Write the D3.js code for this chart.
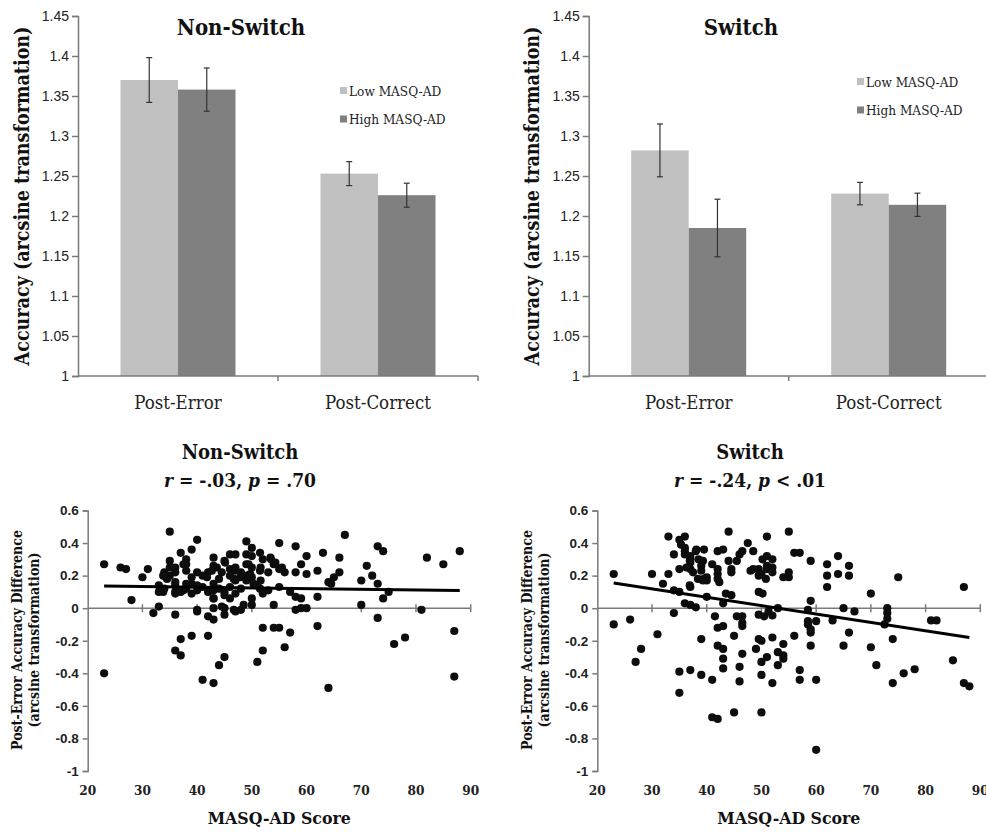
<!DOCTYPE html>
<html>
<head>
<meta charset="utf-8">
<script src="https://cdn.jsdelivr.net/npm/d3@7"></script>
<style>
  body { margin: 0; background: #fff; }
  svg { display: block; font-family: "DejaVu Serif", "Liberation Serif", serif; font-stretch: condensed; }
</style>
</head>
<body>
<script>
// ---- bar chart data ----
const conditions = ["Post-Error", "Post-Correct"];
const groups = ["Low MASQ-AD", "High MASQ-AD"];
const barColors = ["#c0c0c0", "#808080"];

const nonSwitchLow = [1.370, 1.253];
const nonSwitchLowErr = [0.028, 0.015];
const nonSwitchHigh = [1.358, 1.226];
const nonSwitchHighErr = [0.027, 0.015];

const switchLow = [1.282, 1.228];
const switchLowErr = [0.033, 0.014];
const switchHigh = [1.185, 1.214];
const switchHighErr = [0.036, 0.0145];

const barTicks = [1, 1.05, 1.1, 1.15, 1.2, 1.25, 1.3, 1.35, 1.4, 1.45];

// ---- scatter data: [MASQ-AD score, post-error accuracy difference] ----
const nonSwitchPoints = [
  [23,0.27],[23,-0.40],[26,0.25],[27,0.24],[28,0.05],[30,0.19],[31,0.24],[32,-0.03],[33,0.01],[33,0.14],
  [33,0.10],[34,0.22],[34,0.20],[35,0.47],[35,0.29],[35,0.25],[35,0.20],[34.5,0.18],[36,-0.04],[36,0.10],
  [37,0.10],[36,-0.26],[37,-0.29],[37,0.34],[37,-0.19],[38,0.27],[38,0.30],[38,0.23],[39,0.36],[39,-0.17],
  [39,0.19],[39,0.15],[40,0.42],[40,0.11],[40,-0.02],[40,0.22],[41,-0.44],[42,-0.17],[42,-0.05],[43,-0.07],
  [43,-0.46],[42,0.22],[43,0.26],[43,0.31],[43,0.15],[43,0.11],[43,0.06],[43,0.0],[44,-0.35],[45,-0.30],
  [45,0.29],[46,0.33],[47,0.33],[45,0.0],[45,-0.04],[46,0.24],[47,0.23],[47,0.17],[47,-0.02],[48,-0.01],
  [49,0.41],[49,0.33],[49,0.27],[49,0.20],[49,0.17],[50,0.37],[50,0.32],[50,0.25],[50,0.19],[50,0.02],
  [51,-0.33],[51.5,0.34],[52,0.30],[51.5,0.23],[51.5,0.12],[52,0.09],[52,-0.12],[52,-0.26],[53.5,0.30],[54,0.27],
  [55,0.24],[56,0.22],[55,0.40],[54,-0.12],[55,-0.12],[54,0.02],[56,-0.24],[57,-0.15],[57,0.10],[58,0.07],
  [59,0.06],[58,0.38],[58,0.22],[58,-0.01],[59,0.27],[59,0.0],[60,0.0],[60,0.32],[60,0.21],[62,-0.11],
  [62,0.23],[62,0.07],[63,0.34],[64,0.16],[64,-0.49],[65,0.19],[64.5,0.15],[66,0.31],[66,0.22],[67,0.45],
  [70,0.17],[70,0.02],[71,0.26],[72,0.20],[73,0.38],[74,0.35],[73,0.15],[73,-0.06],[74,0.06],[75,0.10],
  [76,-0.22],[78,-0.18],[81,-0.01],[82,0.31],[85,0.27],[87,-0.14],[87,-0.42],[88,0.35],
  [34,0.12],[36,0.14],[38,0.12],[41,0.13],[44,0.12],[46,0.13],[48,0.12],[51,0.14],[53,0.11],[55,0.13],
  [45,0.10],[47,0.09],[39,0.09],[42,0.10],[44,0.18],[46,0.20],[41,0.20],[38,0.15],[36,0.22],[48,0.22],
  [53,0.22],[45,0.08],[46,0.06],
  [33.8,0.20],[36,0.16],[37.5,0.11],[40,0.14],[41.8,0.19],[42.7,0.23],[43.6,0.25],[43,0.06],[44.5,0.22],[45.1,0.28],
  [47,0.25],[46.7,0.18],[47.9,0.19],[49.4,0.27],[49.7,0.21],[50.3,0.15],[51.6,0.25],[51.6,0.17],[50,0.06],[48.5,0.02],
  [46.7,-0.01],[44.5,0.01],[40,-0.01],[36,0.09],[33.8,0.10],[37.5,0.27],[36,0.25],[54.3,0.28],[55.5,0.25],[53.4,0.31]
];

const switchPoints = [
  [23,0.21],[23,-0.10],[26,-0.07],[27,-0.33],[28,-0.25],[30,0.21],[31,-0.16],[32,0.15],[33,0.44],[33,0.21],
  [34,0.33],[34,-0.03],[34,0.11],[35,0.10],[35,0.42],[36,0.44],[35.3,0.39],[36,0.37],[36,0.35],[35,0.24],
  [36,0.33],[37,0.32],[37,0.30],[37,0.28],[37,0.24],[37.5,0.22],[37,0.13],[36,0.03],[37,0.02],[38,0.005],
  [38,0.35],[38.5,0.30],[39,0.26],[39,0.23],[39.5,0.18],[40,0.19],[40,0.17],[39.5,0.36],[39,-0.19],[40,0.07],
  [35,-0.39],[37,-0.38],[39,-0.41],[35,-0.52],[41,-0.44],[41,-0.67],[42,-0.68],[42,0.24],[42,0.18],[42.3,0.16],
  [42,0.35],[43,0.36],[42,0.21],[41.5,-0.05],[42,-0.12],[43,-0.11],[42,-0.23],[43,-0.25],[43,-0.31],[43,-0.37],
  [43,0.03],[43.5,0.09],[44.5,0.08],[44,0.47],[44.5,0.24],[44.5,0.22],[45,-0.17],[45,-0.64],[45.5,0.29],[46,0.33],
  [46.5,0.35],[45.5,-0.05],[46.5,-0.05],[46.5,-0.09],[46.5,-0.11],[46,-0.36],[46,-0.45],[46.5,-0.28],[47.5,0.40],[48.5,0.35],
  [48.5,0.24],[49.5,0.24],[49.5,0.20],[50,0.21],[49,-0.25],[49.5,0.10],[50.2,0.09],[49.5,-0.04],[50.5,-0.05],[51,0.44],
  [50.2,0.30],[51,0.32],[51,0.26],[51,0.24],[50.8,0.18],[49.5,-0.19],[50,-0.20],[50,-0.33],[51,-0.30],[50,-0.41],
  [50,-0.64],[51.3,-0.02],[52,0.30],[52,0.25],[52,0.22],[52,-0.045],[52,-0.18],[52,-0.46],[53,-0.27],[53,-0.35],
  [54,-0.29],[53,0.0],[54,-0.22],[54,-0.31],[54,0.19],[55,0.22],[55,0.19],[55,0.47],[56,0.34],[57,0.34],
  [56,-0.17],[57,-0.44],[57,-0.38],[58.5,-0.01],[58.5,-0.08],[58.5,-0.10],[59,-0.13],[59,0.29],[59,0.045],[59,-0.15],
  [59,-0.23],[60,-0.08],[60,-0.44],[60,-0.87],[62,0.27],[62,0.20],[62,0.13],[63,-0.075],[64,0.32],[64,0.21],
  [65,0.0],[65,-0.23],[66,0.26],[66,0.20],[66,-0.15],[67,-0.02],[70,0.09],[70,-0.24],[71,-0.35],[72.5,-0.10],
  [73,0.0],[73,-0.03],[73,-0.065],[74,-0.19],[74,-0.46],[75,0.19],[76,-0.40],[78,-0.375],[81,-0.075],[82,-0.075],
  [85,-0.32],[87,0.13],[87,-0.46],[88,-0.48],
  [36.3,0.25],[36.9,0.29],[38.1,0.36],[39.3,0.29],[38.4,0.18],[39.3,0.17],[36.9,0.14],[41,0.27],[44,0.29],[48,0.23]
];

// fitted lines as drawn: [x, y] at the two ends
const nonSwitchFit = [[23, 0.136], [88, 0.109]];
const switchFit = [[23, 0.155], [88, -0.18]];

const scatterXTicks = [20, 30, 40, 50, 60, 70, 80, 90];
const scatterYTicks = [-1, -0.8, -0.6, -0.4, -0.2, 0, 0.2, 0.4, 0.6];

const axisColor = "#7a7a7a";
const textColor = "#222";

const svg = d3.select("body").append("svg")
  .attr("width", 986)
  .attr("height", 832);

const fmt = d => String(+d.toFixed(2));

// ---------- bar charts ----------
function barChart(opt) {
  const g = svg.append("g");
  const y = d3.scaleLinear().domain([1, 1.45]).range([376, 16]);
  const x = d3.scaleBand().domain(conditions)
    .range([opt.left, opt.left + 400])
    .paddingInner(0.425).paddingOuter(0.2125);
  const xs = d3.scaleBand().domain(groups).range([0, x.bandwidth()]);

  const rows = conditions.map((c, i) => ({
    c,
    vals: [
      { grp: groups[0], v: opt.low[i], e: opt.lowErr[i] },
      { grp: groups[1], v: opt.high[i], e: opt.highErr[i] }
    ]
  }));

  const cg = g.selectAll("g.cond").data(rows).join("g")
    .attr("transform", d => `translate(${x(d.c)},0)`);

  cg.selectAll("rect").data(d => d.vals).join("rect")
    .attr("x", d => xs(d.grp))
    .attr("width", xs.bandwidth())
    .attr("y", d => y(d.v))
    .attr("height", d => y(1) - y(d.v))
    .attr("fill", (d, i) => barColors[i]);

  // error bars
  const eb = cg.selectAll("g.err").data(d => d.vals).join("g")
    .attr("stroke", "#333").attr("stroke-width", 1.2);
  eb.append("line")
    .attr("x1", d => xs(d.grp) + xs.bandwidth() / 2)
    .attr("x2", d => xs(d.grp) + xs.bandwidth() / 2)
    .attr("y1", d => y(d.v + d.e)).attr("y2", d => y(d.v - d.e));
  [1, -1].forEach(s => {
    eb.append("line")
      .attr("x1", d => xs(d.grp) + xs.bandwidth() / 2 - 3)
      .attr("x2", d => xs(d.grp) + xs.bandwidth() / 2 + 3)
      .attr("y1", d => y(d.v + s * d.e)).attr("y2", d => y(d.v + s * d.e));
  });

  // y axis
  const ya = g.append("g").attr("transform", `translate(${opt.left},0)`)
    .call(d3.axisLeft(y).tickValues(barTicks).tickFormat(fmt).tickSize(6).tickPadding(3));
  ya.select(".domain").attr("stroke", axisColor).attr("stroke-width", 1.5);
  ya.selectAll(".tick line").attr("stroke", axisColor).attr("stroke-width", 1.5);
  ya.selectAll(".tick text").attr("fill", textColor)
    .style("font-size", "14px").style("font-family", "inherit");

  // x axis
  const xa = g.append("g").attr("transform", `translate(0,${y(1)})`);
  xa.append("line").attr("x1", opt.left).attr("x2", opt.left + 400)
    .attr("stroke", axisColor).attr("stroke-width", 1.5);
  xa.selectAll("line.t").data([opt.left + 200, opt.left + 400]).join("line")
    .attr("x1", d => d).attr("x2", d => d).attr("y1", 0).attr("y2", 5)
    .attr("stroke", axisColor).attr("stroke-width", 1.5);
  xa.selectAll("text").data(conditions).join("text")
    .attr("x", d => x(d) + x.bandwidth() / 2)
    .attr("y", 33)
    .attr("text-anchor", "middle")
    .attr("fill", textColor)
    .style("font-size", "18.5px")
    .text(d => d);

  // title
  g.append("text")
    .attr("x", opt.titleX).attr("y", 35)
    .attr("text-anchor", "middle")
    .attr("fill", "#111")
    .style("font-size", "22px").style("font-weight", "bold")
    .text(opt.title);

  // y label
  g.append("text")
    .attr("transform", `translate(${opt.labelX},196) rotate(-90)`)
    .attr("text-anchor", "middle")
    .attr("dy", "0.35em")
    .attr("fill", "#111")
    .style("font-size", "19.5px").style("font-weight", "bold")
    .text("Accuracy (arcsine transformation)");

  // legend
  const lg = g.selectAll("g.leg").data(groups).join("g")
    .attr("transform", (d, i) => `translate(${opt.legX},${opt.legY + i * 28.5})`);
  lg.append("rect").attr("x", -4).attr("y", -4).attr("width", 7).attr("height", 7)
    .attr("fill", (d, i) => barColors[i]);
  lg.append("text").attr("x", 5).attr("dy", "0.35em")
    .attr("fill", textColor)
    .style("font-size", "13.5px")
    .text(d => d);
}

barChart({
  left: 78, title: "Non-Switch", titleX: 241, labelX: 22,
  legX: 344, legY: 91,
  low: nonSwitchLow, lowErr: nonSwitchLowErr, high: nonSwitchHigh, highErr: nonSwitchHighErr
});
barChart({
  left: 588.7, title: "Switch", titleX: 741, labelX: 532,
  legX: 861, legY: 82,
  low: switchLow, lowErr: switchLowErr, high: switchHigh, highErr: switchHighErr
});

// ---------- scatter plots ----------
function scatter(opt) {
  const g = svg.append("g");
  const x = d3.scaleLinear().domain([20, 90]).range([opt.left, opt.left + 383]);
  const y = d3.scaleLinear().domain([-1, 0.6]).range([771, 510.5]);

  // y axis
  const ya = g.append("g").attr("transform", `translate(${opt.left},0)`)
    .call(d3.axisLeft(y).tickValues(scatterYTicks)
      .tickFormat(d => String(+d.toFixed(1))).tickSize(5).tickPadding(4));
  ya.select(".domain").attr("stroke", axisColor).attr("stroke-width", 1.5);
  ya.selectAll(".tick line").attr("stroke", axisColor).attr("stroke-width", 1.5);
  ya.selectAll(".tick text").attr("fill", textColor)
    .style("font-size", "13.5px").style("font-weight", "bold").style("font-family", "inherit");

  // x axis crossing at zero, with cross ticks
  g.append("line").attr("x1", x(20)).attr("x2", x(90))
    .attr("y1", y(0)).attr("y2", y(0))
    .attr("stroke", axisColor).attr("stroke-width", 1.5);
  g.selectAll("line.xt").data(scatterXTicks.slice(1)).join("line")
    .attr("x1", d => x(d)).attr("x2", d => x(d))
    .attr("y1", y(0) - 4).attr("y2", y(0) + 4)
    .attr("stroke", axisColor).attr("stroke-width", 1.5);
  g.selectAll("text.xl").data(scatterXTicks).join("text")
    .attr("x", d => x(d)).attr("y", 795)
    .attr("text-anchor", "middle").attr("fill", textColor)
    .style("font-size", "13.5px").style("font-weight", "bold")
    .text(d => d);

  g.append("text")
    .attr("x", x(55)).attr("y", 824)
    .attr("text-anchor", "middle").attr("fill", "#111")
    .style("font-size", "17.5px").style("font-weight", "bold")
    .text("MASQ-AD Score");

  // points
  g.append("g").selectAll("circle").data(opt.points).join("circle")
    .attr("cx", d => x(d[0])).attr("cy", d => y(d[1]))
    .attr("r", 4.1).attr("fill", "#0d0d0d");

  // fit line
  g.append("line")
    .attr("x1", x(opt.fit[0][0])).attr("y1", y(opt.fit[0][1]))
    .attr("x2", x(opt.fit[1][0])).attr("y2", y(opt.fit[1][1]))
    .attr("stroke", "#000").attr("stroke-width", 3);

  // titles
  g.append("text")
    .attr("x", opt.titleX).attr("y", 459)
    .attr("text-anchor", "middle").attr("fill", "#111")
    .style("font-size", "20px").style("font-weight", "bold")
    .text(opt.title);
  const st = g.append("text")
    .attr("x", opt.titleX).attr("y", 487)
    .attr("text-anchor", "middle").attr("fill", "#111")
    .style("font-size", "19px").style("font-weight", "bold");
  st.append("tspan").style("font-style", "italic").text("r");
  st.append("tspan").text(` = ${opt.r}, `);
  st.append("tspan").style("font-style", "italic").text("p");
  st.append("tspan").text(` ${opt.p}`);

  // y label (two lines)
  const yl = g.append("text")
    .attr("transform", `translate(${opt.labelX},640) rotate(-90)`)
    .attr("text-anchor", "middle").attr("fill", "#111")
    .style("font-size", "14px").style("font-weight", "bold");
  yl.append("tspan").attr("x", 0).attr("y", 0).text("Post-Error Accuracy Difference");
  yl.append("tspan").attr("x", 0).attr("y", 17).text("(arcsine transformation)");
}

scatter({
  left: 87.7, points: nonSwitchPoints, fit: nonSwitchFit,
  title: "Non-Switch", r: "-.03", p: "= .70", titleX: 240, labelX: 22
});
scatter({
  left: 597.3, points: switchPoints, fit: switchFit,
  title: "Switch", r: "-.24", p: "< .01", titleX: 750, labelX: 532
});
</script>
</body>
</html>
